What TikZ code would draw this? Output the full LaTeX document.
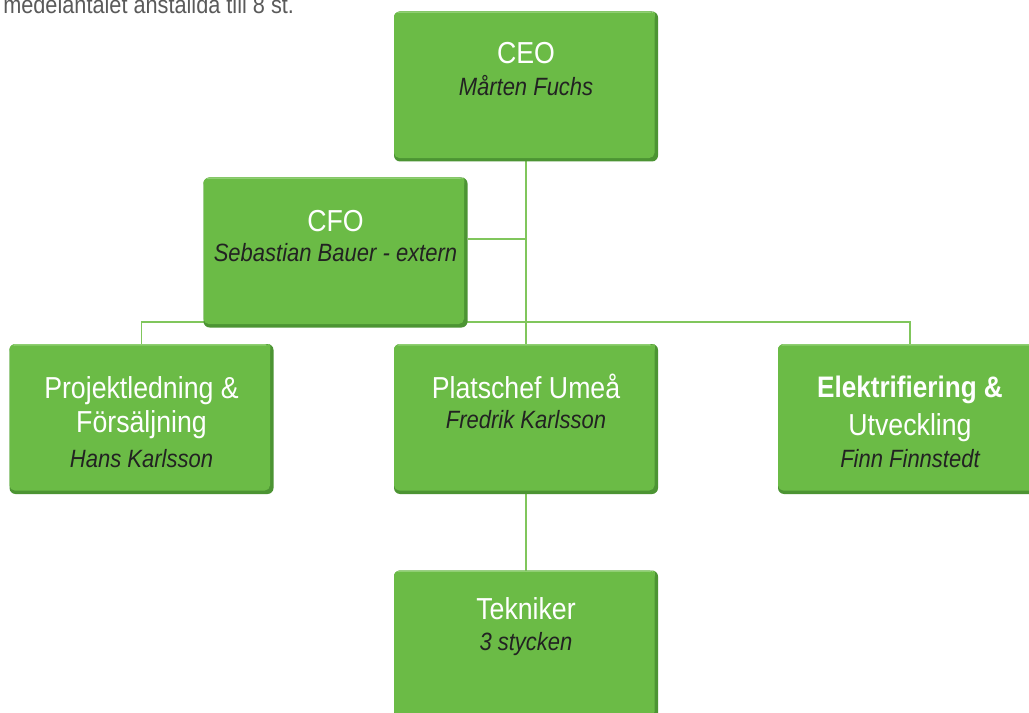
\documentclass[tikz,border=0pt]{standalone}
\usepackage{fontspec}
\setmainfont{Liberation Sans}[FakeStretch=0.88]
\usetikzlibrary{calc}
\definecolor{boxgreen}{HTML}{6BBB46}
\definecolor{boxdark}{HTML}{4C9433}
\definecolor{boxlight}{HTML}{8FCF72}
\definecolor{linegreen}{HTML}{80C65C}
\definecolor{namecol}{HTML}{222222}
\definecolor{notecol}{HTML}{5A5A5A}
\tikzset{
  orgbox/.style={rectangle, rounded corners=4.5pt, minimum width=198pt, minimum height=112.5pt,
    inner sep=0pt, outer sep=0pt, fill=boxdark,
    path picture={
      \fill[boxgreen, rounded corners=4pt] (path picture bounding box.north west) rectangle ([xshift=-2.6pt,yshift=2.6pt]path picture bounding box.south east);
      \fill[boxlight, rounded corners=4pt] (path picture bounding box.north west) rectangle ([xshift=-2.6pt,yshift=-1.5pt]path picture bounding box.north east);
      \fill[boxgreen] ([yshift=-1.2pt]path picture bounding box.north west) rectangle ([xshift=-2.6pt,yshift=-2.5pt]path picture bounding box.north east);
    }},
  ghost/.style={rectangle, minimum width=198pt, minimum height=112.5pt, inner sep=0pt, outer sep=0pt},
  ttl/.style={anchor=base, text=white, inner sep=0pt, font=\fontsize{22.75}{27}\selectfont},
  nm/.style={anchor=base, text=namecol, inner sep=0pt, font=\fontsize{18.75}{22}\selectfont\itshape},
  conn/.style={draw=linegreen, line width=0.8pt},
}
\begin{document}
\begin{tikzpicture}[x=0.75pt, y=-0.75pt]
\clip (0,0) rectangle (1029,713);
\fill[white] (0,0) rectangle (1029,713);

% note text at top
\node[anchor=base west, text=notecol, inner sep=0pt, font=\fontsize{18.5}{22}\selectfont] (note) at (3,13.5) {medelantalet anställda till 8 st.};

% connector coordinates
\coordinate (cfoJ) at (526,239);
\coordinate (barL) at (141.5,322);
\coordinate (barR) at (910,322);

% box positions
\path (526,86.5) coordinate (ceoC);
\path (335.5,252.5) coordinate (cfoC);
\path (141.5,419) coordinate (projC);
\path (526,419) coordinate (platC);
\path (910,419) coordinate (elekC);
\path (526,645.5) coordinate (tekC);

% invisible placeholders so connectors can be drawn beneath the boxes
\node[ghost] (ceoP) at (ceoC) {};
\node[ghost] (platP) at (platC) {};
\node[ghost] (projP) at (projC) {};
\node[ghost] (elekP) at (elekC) {};
\node[ghost] (tekP) at (tekC) {};
\node[ghost] (cfoP) at (cfoC) {};
\draw[conn] (ceoP.south) -- (platP.north);
\draw[conn] (cfoP.east |- cfoJ) -- (cfoJ);
\draw[conn] (projP.north) -- (barL) -- (barR) -- (elekP.north);
\draw[conn] (platP.south) -- (tekP.north);

% boxes
\node[orgbox] (ceo) at (ceoC) {};
\node[orgbox] (cfo) at (cfoC) {};
\node[orgbox] (proj) at (projC) {};
\node[orgbox] (plat) at (platC) {};
\node[orgbox] (elek) at (elekC) {};
\node[orgbox] (tek) at (tekC) {};

% texts
\node[ttl] (ceoT) at ($(ceo.north)+(0,52)$) {CEO};
\node[nm] (ceoN) at ($(ceo.north)+(0,84)$) {Mårten Fuchs};

\node[ttl] (cfoT) at ($(cfo.north)+(0,54)$) {CFO};
\node[nm] (cfoN) at ($(cfo.north)+(0,84)$) {Sebastian Bauer - extern};

\node[ttl] (projT1) at ($(proj.north)+(0,54)$) {Projektledning \&};
\node[ttl] (projT2) at ($(proj.north)+(0,88)$) {Försäljning};
\node[nm] (projN) at ($(proj.north)+(0,123)$) {Hans Karlsson};

\node[ttl] (platT) at ($(plat.north)+(0,54)$) {Platschef Umeå};
\node[nm] (platN) at ($(plat.north)+(0,84)$) {Fredrik Karlsson};

\node[ttl, font=\fontsize{22.25}{27}\selectfont\bfseries] (elekT1) at ($(elek.north)+(0,53)$) {Elektrifiering \&};
\node[ttl] (elekT2) at ($(elek.north)+(0,91)$) {Utveckling};
\node[nm] (elekN) at ($(elek.north)+(0,123)$) {Finn Finnstedt};

\node[ttl] (tekT) at ($(tek.north)+(0,49)$) {Tekniker};
\node[nm] (tekN) at ($(tek.north)+(0,80)$) {3 stycken};
\end{tikzpicture}
\end{document}
